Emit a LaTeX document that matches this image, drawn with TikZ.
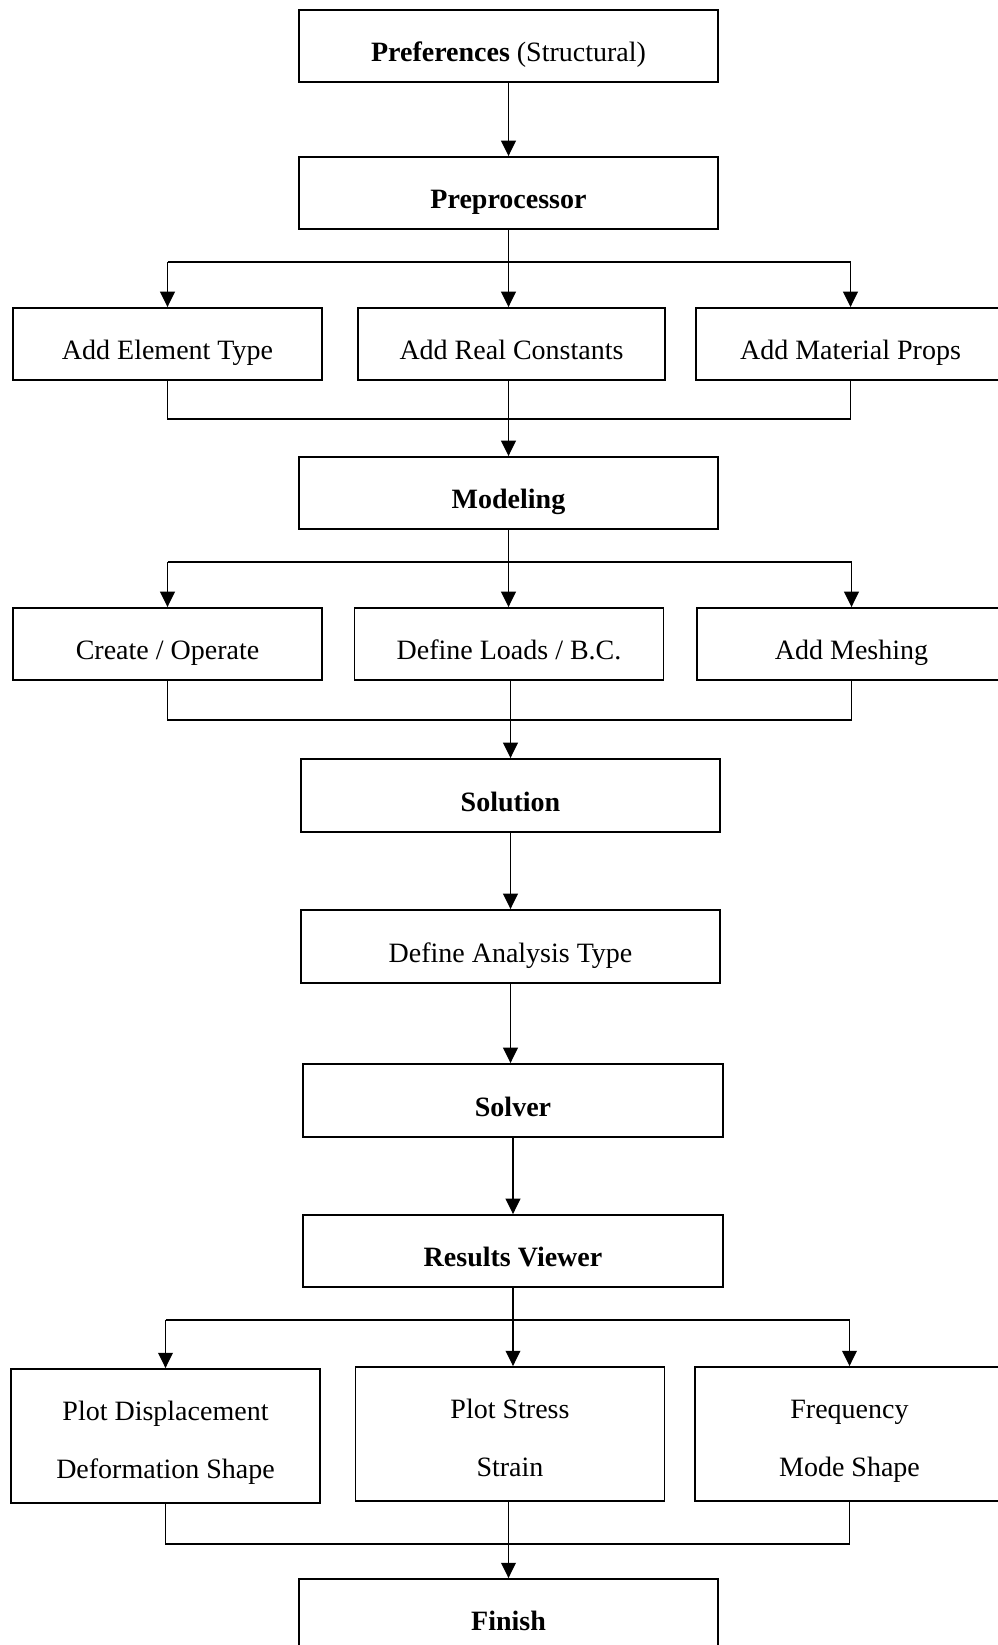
\documentclass[tikz,border=0pt]{standalone}
\usepackage{fontspec}
\setmainfont{Liberation Serif}
\usetikzlibrary{arrows.meta}
\begin{document}
\begin{tikzpicture}[x=0.75pt,y=-0.75pt,
  mainbox/.style={draw,line width=1.4pt,inner sep=0pt,
    minimum width=314.25pt,minimum height=54pt,
    text height=23.25pt,text depth=0pt,
    font=\fontsize{21}{25}\selectfont},
  sidebox/.style={mainbox,minimum width=231.75pt},
  tallbox/.style={sidebox,minimum height=100.5pt,text height=63pt,
    font=\fontsize{21}{43.5}\selectfont},
  link/.style={line width=1.1pt},
  arr/.style={link,-{Triangle[length=11.5pt,width=11pt]}}]
\useasboundingbox (0,0) rectangle (998,1645);

% main column
\node[mainbox] (pref)   at (508.5,46)    {\textbf{Preferences} (Structural)};
\node[mainbox] (prep)   at (508.5,193)   {\textbf{Preprocessor}};
\node[mainbox] (model)  at (508.5,493)   {\textbf{Modeling}};
\node[mainbox,minimum height=54.75pt] (sol) at (510.5,795.5) {\textbf{Solution}};
\node[mainbox,minimum height=54.75pt] (dat) at (510.5,946.5) {Define Analysis Type};
\node[mainbox,minimum width=315pt,minimum height=54.75pt] (solver) at (513,1100.5) {\textbf{Solver}};
\node[mainbox,minimum width=315pt] (rv)     at (513,1251)    {\textbf{Results Viewer}};
\node[mainbox] (fin)    at (508.5,1615)  {\textbf{Finish}};

% preprocessor items
\node[sidebox] (ae) at (167.5,344) {Add Element Type};
\node[sidebox,minimum width=230.25pt] (ar) at (511.5,344) {Add Real Constants};
\node[sidebox] (am) at (850.5,344) {Add Material Props};

% modeling items
\node[sidebox] (co) at (167.5,644) {Create / Operate};
\node[sidebox] (dl) at (509,644)   {Define Loads / B.C.};
\node[sidebox] (mesh) at (851.5,644) {Add Meshing};

% result plots
\node[tallbox] (pd) at (165.5,1436) {\begin{tabular}[b]{@{}c@{}}Plot Displacement\\Deformation Shape\end{tabular}};
\node[tallbox] (ps) at (510,1434)   {\begin{tabular}[b]{@{}c@{}}Plot Stress\\Strain\end{tabular}};
\node[tallbox] (fm) at (849.5,1434) {\begin{tabular}[b]{@{}c@{}}Frequency\\Mode Shape\end{tabular}};

% branch and merge levels
\coordinate (b1) at (0,262);
\coordinate (m1) at (0,419);
\coordinate (b2) at (0,562);
\coordinate (m2) at (0,720);
\coordinate (b3) at (0,1320);
\coordinate (m3) at (0,1544);

% connectors
\draw[arr] (pref) -- (prep);

\draw[arr] (prep.south) -- (prep.south |- ar.north);
\draw[link] (ae.north |- b1) -- (am.north |- b1);
\draw[arr] (ae.north |- b1) -- (ae.north);
\draw[arr] (am.north |- b1) -- (am.north);
\draw[link] (ae.south) -- (ae.south |- m1) -- (am.south |- m1) -- (am.south);
\draw[arr] (model.north |- ar.south) -- (model.north);

\draw[arr] (model.south) -- (model.south |- dl.north);
\draw[link] (co.north |- b2) -- (mesh.north |- b2);
\draw[arr] (co.north |- b2) -- (co.north);
\draw[arr] (mesh.north |- b2) -- (mesh.north);
\draw[link] (co.south) -- (co.south |- m2) -- (mesh.south |- m2) -- (mesh.south);
\draw[arr] (sol.north |- dl.south) -- (sol.north);

\draw[arr] (sol.south) -- (sol.south |- dat.north);
\draw[arr] (dat.south) -- (dat.south |- solver.north);
\draw[arr] (solver.south) -- (solver.south |- rv.north);

\draw[arr] (rv.south) -- (rv.south |- ps.north);
\draw[link] (pd.north |- b3) -- (fm.north |- b3);
\draw[arr] (pd.north |- b3) -- (pd.north);
\draw[arr] (fm.north |- b3) -- (fm.north);
\draw[link] (pd.south) -- (pd.south |- m3) -- (fm.south |- m3) -- (fm.south);
\draw[arr] (fin.north |- ps.south) -- (fin.north);
\end{tikzpicture}
\end{document}
